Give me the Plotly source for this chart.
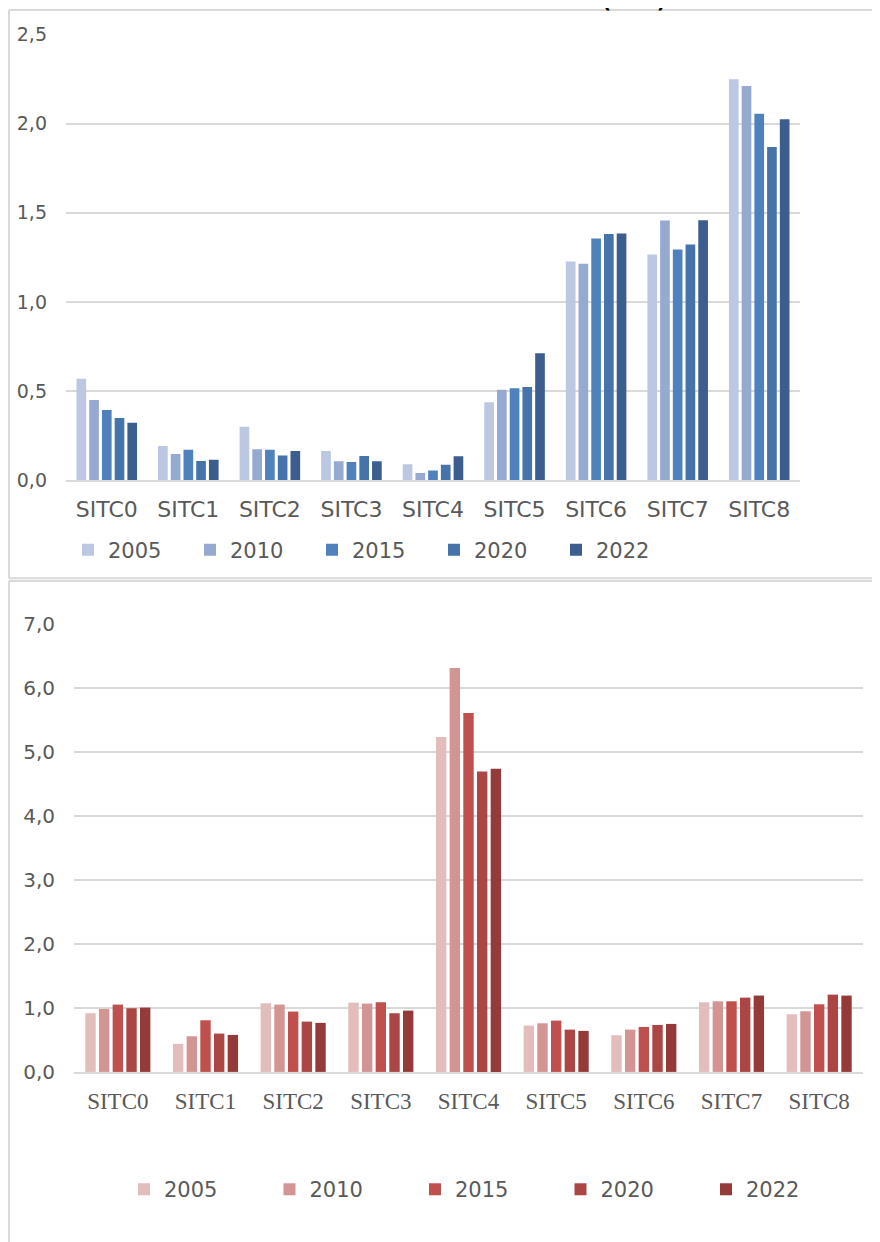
import plotly.graph_objects as go

W, H = 880, 1242

categories = ["SITC0", "SITC1", "SITC2", "SITC3", "SITC4", "SITC5", "SITC6", "SITC7", "SITC8"]
years = ["2005", "2010", "2015", "2020", "2022"]

# Top chart (blue)
top_2005 = [0.570, 0.192, 0.301, 0.165, 0.090, 0.438, 1.227, 1.267, 2.249]
top_2010 = [0.450, 0.148, 0.175, 0.107, 0.041, 0.508, 1.214, 1.457, 2.211]
top_2015 = [0.395, 0.171, 0.171, 0.103, 0.055, 0.517, 1.356, 1.295, 2.056]
top_2020 = [0.350, 0.109, 0.139, 0.137, 0.088, 0.524, 1.381, 1.323, 1.869]
top_2022 = [0.323, 0.115, 0.165, 0.107, 0.135, 0.713, 1.384, 1.459, 2.024]
top_colors = ["#BCC8E1", "#95A9D1", "#4F81BD", "#4674AA", "#3B5E8F"]
top_ticks = [0.0, 0.5, 1.0, 1.5, 2.0, 2.5]
top_ticktext = ["0,0", "0,5", "1,0", "1,5", "2,0", "2,5"]

# Bottom chart (red)
bot_2005 = [0.917, 0.438, 1.073, 1.083, 5.236, 0.724, 0.573, 1.089, 0.901]
bot_2010 = [0.984, 0.557, 1.052, 1.068, 6.312, 0.760, 0.661, 1.104, 0.948]
bot_2015 = [1.052, 0.807, 0.943, 1.089, 5.610, 0.802, 0.703, 1.104, 1.057]
bot_2020 = [0.995, 0.599, 0.786, 0.917, 4.696, 0.661, 0.734, 1.161, 1.208]
bot_2022 = [1.005, 0.578, 0.766, 0.958, 4.738, 0.641, 0.750, 1.193, 1.193]
bot_colors = ["#E3BCBC", "#D39594", "#C0504D", "#AB4644", "#943B39"]
bot_ticks = [0, 1, 2, 3, 4, 5, 6, 7]
bot_ticktext = ["0,0", "1,0", "2,0", "3,0", "4,0", "5,0", "6,0", "7,0"]

title_fragment = "(RCA)"

top_series = [top_2005, top_2010, top_2015, top_2020, top_2022]
bot_series = [bot_2005, bot_2010, bot_2015, bot_2020, bot_2022]

# map picture pixels to paper fractions (page renders with a small offset)
OX, OY, PH = 8.0, 18.5, 1221.0

def fx(p):
    return (p - OX) / W

def fy(p):
    return 1 - (p - OY) / PH

fig = go.Figure()

for yr, vals, col in zip(years, top_series, top_colors):
    fig.add_trace(go.Bar(x=categories, y=vals, name=yr, marker_color=col,
                         marker_line_width=0, xaxis="x", yaxis="y", legend="legend"))
for yr, vals, col in zip(years, bot_series, bot_colors):
    fig.add_trace(go.Bar(x=categories, y=vals, name=yr, marker_color=col,
                         marker_line_width=0, xaxis="x2", yaxis="y2", legend="legend2"))

grid = "#D9D9D9"
txt = "#595959"
sans = "DejaVu Sans"
serif = "Liberation Serif"

fig.update_layout(
    width=W, height=H,
    margin=dict(l=0, r=0, t=0, b=0),
    paper_bgcolor="white", plot_bgcolor="white",
    barmode="group", bargap=0.22, bargroupgap=0.24,
    xaxis=dict(domain=[fx(66), fx(800)], anchor="y", showgrid=False,
               showline=True, linecolor=grid, linewidth=2,
               tickfont=dict(family=sans, size=22, color=txt), ticklabelstandoff=8,
               fixedrange=True),
    yaxis=dict(domain=[fy(480), fy(33)], anchor="x", range=[0, 2.5],
               tickvals=top_ticks, ticktext=top_ticktext, showgrid=True,
               gridcolor=grid, gridwidth=2, zeroline=False, showline=False,
               tickfont=dict(family=sans, size=19, color=txt), ticklabelstandoff=18),
    xaxis2=dict(domain=[fx(74), fx(863)], anchor="y2", showgrid=False,
                showline=True, linecolor=grid, linewidth=2,
                tickfont=dict(family=serif, size=23, color=txt), ticklabelstandoff=7),
    yaxis2=dict(domain=[fy(1073), fy(624)], anchor="x2", range=[0, 7],
                tickvals=bot_ticks, ticktext=bot_ticktext, showgrid=True,
                gridcolor=grid, gridwidth=2, zeroline=False, showline=False,
                tickfont=dict(family=sans, size=20, color=txt), ticklabelstandoff=18),
    legend=dict(orientation="h", x=fx(68), xanchor="left", y=fy(550), yanchor="middle",
                entrywidth=77, entrywidthmode="pixels", bgcolor="rgba(0,0,0,0)",
                font=dict(family=sans, size=21, color=txt), traceorder="normal",
                itemclick=False, itemdoubleclick=False),
    legend2=dict(orientation="h", x=fx(124), xanchor="left", y=fy(1191), yanchor="middle",
                 entrywidth=100.5, entrywidthmode="pixels", bgcolor="rgba(0,0,0,0)",
                 font=dict(family=sans, size=21, color=txt), traceorder="normal",
                 itemclick=False, itemdoubleclick=False),
    showlegend=True,
)

# chart frames
frame = dict(color=grid, width=2)
shapes = [
    dict(type="line", xref="paper", yref="paper", x0=fx(9), x1=1.02, y0=fy(8.5), y1=fy(8.5), line=frame),
    dict(type="line", xref="paper", yref="paper", x0=fx(9), x1=fx(9), y0=fy(8.5), y1=fy(578), line=frame),
    dict(type="line", xref="paper", yref="paper", x0=fx(9), x1=1.02, y0=fy(578), y1=fy(578), line=frame),
    dict(type="line", xref="paper", yref="paper", x0=fx(9), x1=1.02, y0=fy(581), y1=fy(581), line=frame),
    dict(type="line", xref="paper", yref="paper", x0=fx(9), x1=fx(9), y0=fy(581), y1=-0.03, line=frame),
]
fig.update_layout(shapes=shapes)

fig.add_annotation(text="<b>" + title_fragment + "</b>", xref="paper", yref="paper",
                   x=fx(634), y=fy(-1), xanchor="center", yanchor="middle",
                   showarrow=False, font=dict(family=sans, size=20, color="#000000"))

fig.write_html("out.html")
